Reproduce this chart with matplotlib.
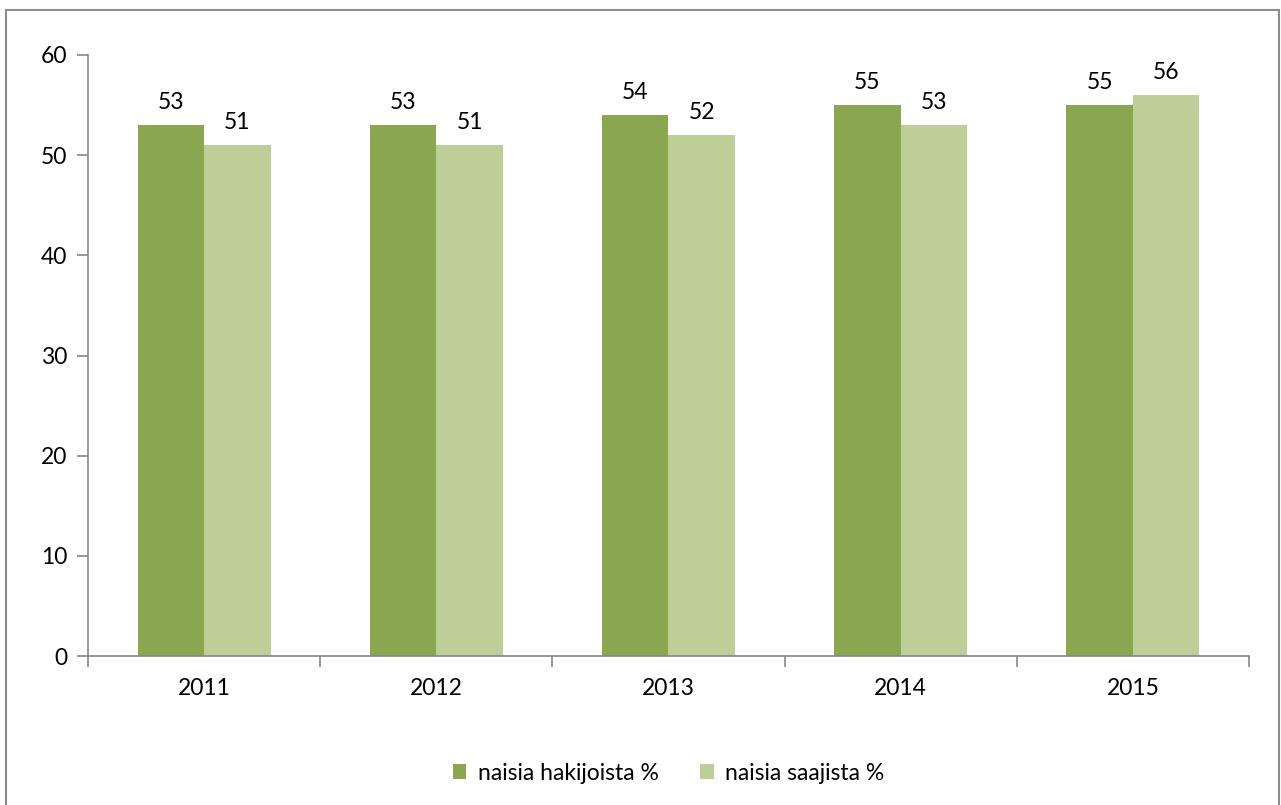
import numpy as np
import matplotlib.pyplot as plt
from matplotlib.patches import Rectangle

# === Data ===
years = ['2011', '2012', '2013', '2014', '2015']
hakijat = [53, 53, 54, 55, 55]
saajat = [51, 51, 52, 53, 56]

dark = '#8AA64F'
light = '#BBCF96'
axis_col = '#868686'
fs = 16.5

plt.rcParams['font.family'] = ['Lato', 'DejaVu Sans']

fig = plt.figure(figsize=(12.81, 8.05), dpi=100)
ax = fig.add_axes([0.0687, 0.185, 0.9063, 0.7467])

# frame around the whole chart
fig.patches.append(Rectangle((6 / 1281, -0.05), 1273 / 1281, 1.05 - 10 / 805,
                             transform=fig.transFigure, fill=False,
                             edgecolor='#8c8c8c', lw=1.5))

x = np.arange(len(years))
w = 0.2866
b1 = ax.bar(x - w / 2, hakijat, w, color=dark, label='naisia hakijoista %')
b2 = ax.bar(x + w / 2, saajat, w, color=light, label='naisia saajista %')
ax.bar_label(b1, padding=9, fontsize=fs)
ax.bar_label(b2, padding=9, fontsize=fs)

ax.set_xlim(-0.5, len(years) - 0.5)
ax.set_ylim(0, 60)
ax.set_yticks(range(0, 61, 10))
ax.set_xticks(x)
ax.set_xticklabels(years)
ax.set_xticks(np.arange(-0.5, len(years)), minor=True)
ax.tick_params(axis='x', which='major', length=0, pad=16, labelsize=fs)
ax.tick_params(axis='x', which='minor', length=8, width=1.2, color=axis_col)
ax.tick_params(axis='y', length=8, width=1.2, color=axis_col, pad=7, labelsize=fs)

for s in ['top', 'right']:
    ax.spines[s].set_visible(False)
for s in ['left', 'bottom']:
    ax.spines[s].set_color(axis_col)
    ax.spines[s].set_linewidth(1.2)

ax.legend(loc='center', bbox_to_anchor=(0.5, -0.195), ncol=2, frameon=False,
          fontsize=fs, handlelength=0.6, handleheight=0.6, handletextpad=0.5,
          columnspacing=1.8)

fig.savefig('out.png', dpi=100)
